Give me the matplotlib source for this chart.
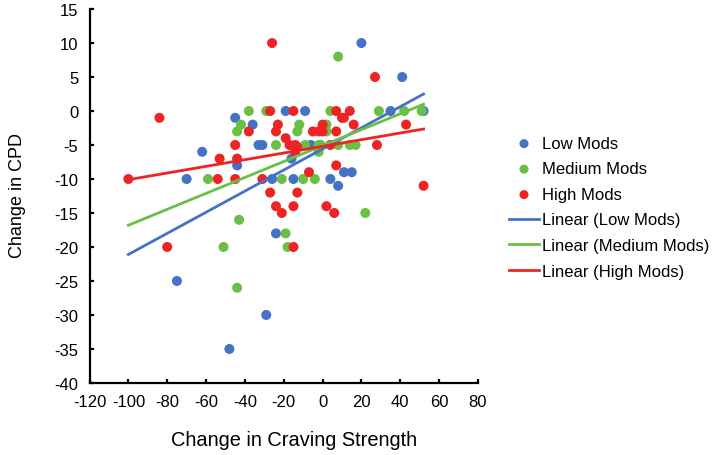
import numpy as np
import matplotlib
matplotlib.use("Agg")
import matplotlib.pyplot as plt

plt.rcParams['font.family'] = ['Liberation Sans', 'DejaVu Sans']
plt.rcParams['axes.unicode_minus'] = False

# Low Mods
low_x = [-75, -70, -62, -48, -45, -44, -36, -33, -31, -29, -26, -24, -19, -16, -15,
         -9, -6, 4, 8, 11, 15, 20, 35, 41, 52]
low_y = [-25, -10, -6, -35, -1, -8, -2, -5, -5, -30, -10, -18, 0, -7, -10,
         0, -5, -10, -11, -9, -9, 10, 0, 5, 0]

# Medium Mods
med_x = [-59, -51, -44, -43, -42, -44, -38, -29, -24, -21, -19, -18, -13, -12, -10,
         -9, -4, -2, -1, -2, 2, 2, 4, 8, 8, 14, 17, 22, 29, 42, 51]
med_y = [-10, -20, -26, -16, -2, -3, 0, 0, -5, -10, -18, -20, -3, -2, -10,
         -5, -10, -5, -5, -6, -2, -3, 0, -5, 8, -5, -5, -15, 0, 0, 0]

# High Mods
high_x = [-100, -84, -80, -54, -53, -45, -45, -44, -38, -31, -27, -27, -26, -24, -23,
          -24, -21, -19, -17, -14, -13, -14, -15, -15, -15, -13, -7, -5, -2, 0,
          0, 4, 6, 2, 7, 7, 7, 10, 11, 14, 16, 27, 28, 43, 52]
high_y = [-10, -1, -20, -10, -7, -10, -5, -7, -3, -10, 0, -12, 10, -3, -2,
          -14, -15, -4, -5, -5, -5.3, -6, 0, -14, -20, -12, -9, -3, -3, -3,
          -2, -5, -15, -14, 0, -3, -8, -1, -1, 0, -2, 5, -5, -2, -11]

# linear trendline ends
trend_x = [-100, 52]
low_trend = [-21.1, 2.5]
med_trend = [-16.8, 1.0]
high_trend = [-10.1, -2.65]

blue = '#4472C4'
green = '#6BBF45'
red = '#EE2424'

fig = plt.figure(figsize=(7.14, 4.56), dpi=100)
ax = fig.add_axes([0.1254, 0.158, 0.544, 0.820])

ax.scatter(low_x, low_y, s=52, color=blue, edgecolors='none', label='Low Mods', zorder=2)
ax.scatter(med_x, med_y, s=52, color=green, edgecolors='none', label='Medium Mods', zorder=2)
ax.scatter(high_x, high_y, s=52, color=red, edgecolors='none', label='High Mods', zorder=2)
ax.plot(trend_x, low_trend, color=blue, lw=2, label='Linear (Low Mods)', zorder=3)
ax.plot(trend_x, med_trend, color=green, lw=2, label='Linear (Medium Mods)', zorder=3)
ax.plot(trend_x, high_trend, color=red, lw=2, label='Linear (High Mods)', zorder=3)

ax.set_xlim(-120, 80)
ax.set_ylim(-40, 15)
ax.set_xticks(np.arange(-120, 81, 20))
ax.set_yticks(np.arange(-40, 16, 5))
ax.spines['top'].set_visible(False)
ax.spines['right'].set_visible(False)
ax.spines['left'].set_linewidth(1.6)
ax.spines['bottom'].set_linewidth(1.6)
ax.tick_params(direction='in', length=3, width=1.6, labelsize=12, pad=8)

fig.text(0.412, 0.035, 'Change in Craving Strength', ha='center', va='center', fontsize=14.4)
fig.text(0.012, 0.572, 'Change in CPD', ha='left', va='center', rotation=90, fontsize=13)

fig.legend(loc='upper left', bbox_to_anchor=(509 / 714, 1 - 137 / 456), frameon=False,
           fontsize=12, handlelength=1.8, handletextpad=0.2, labelspacing=0.63,
           borderpad=0, borderaxespad=0, scatterpoints=1, markerscale=0.9)

fig.savefig('out.png', dpi=100)
